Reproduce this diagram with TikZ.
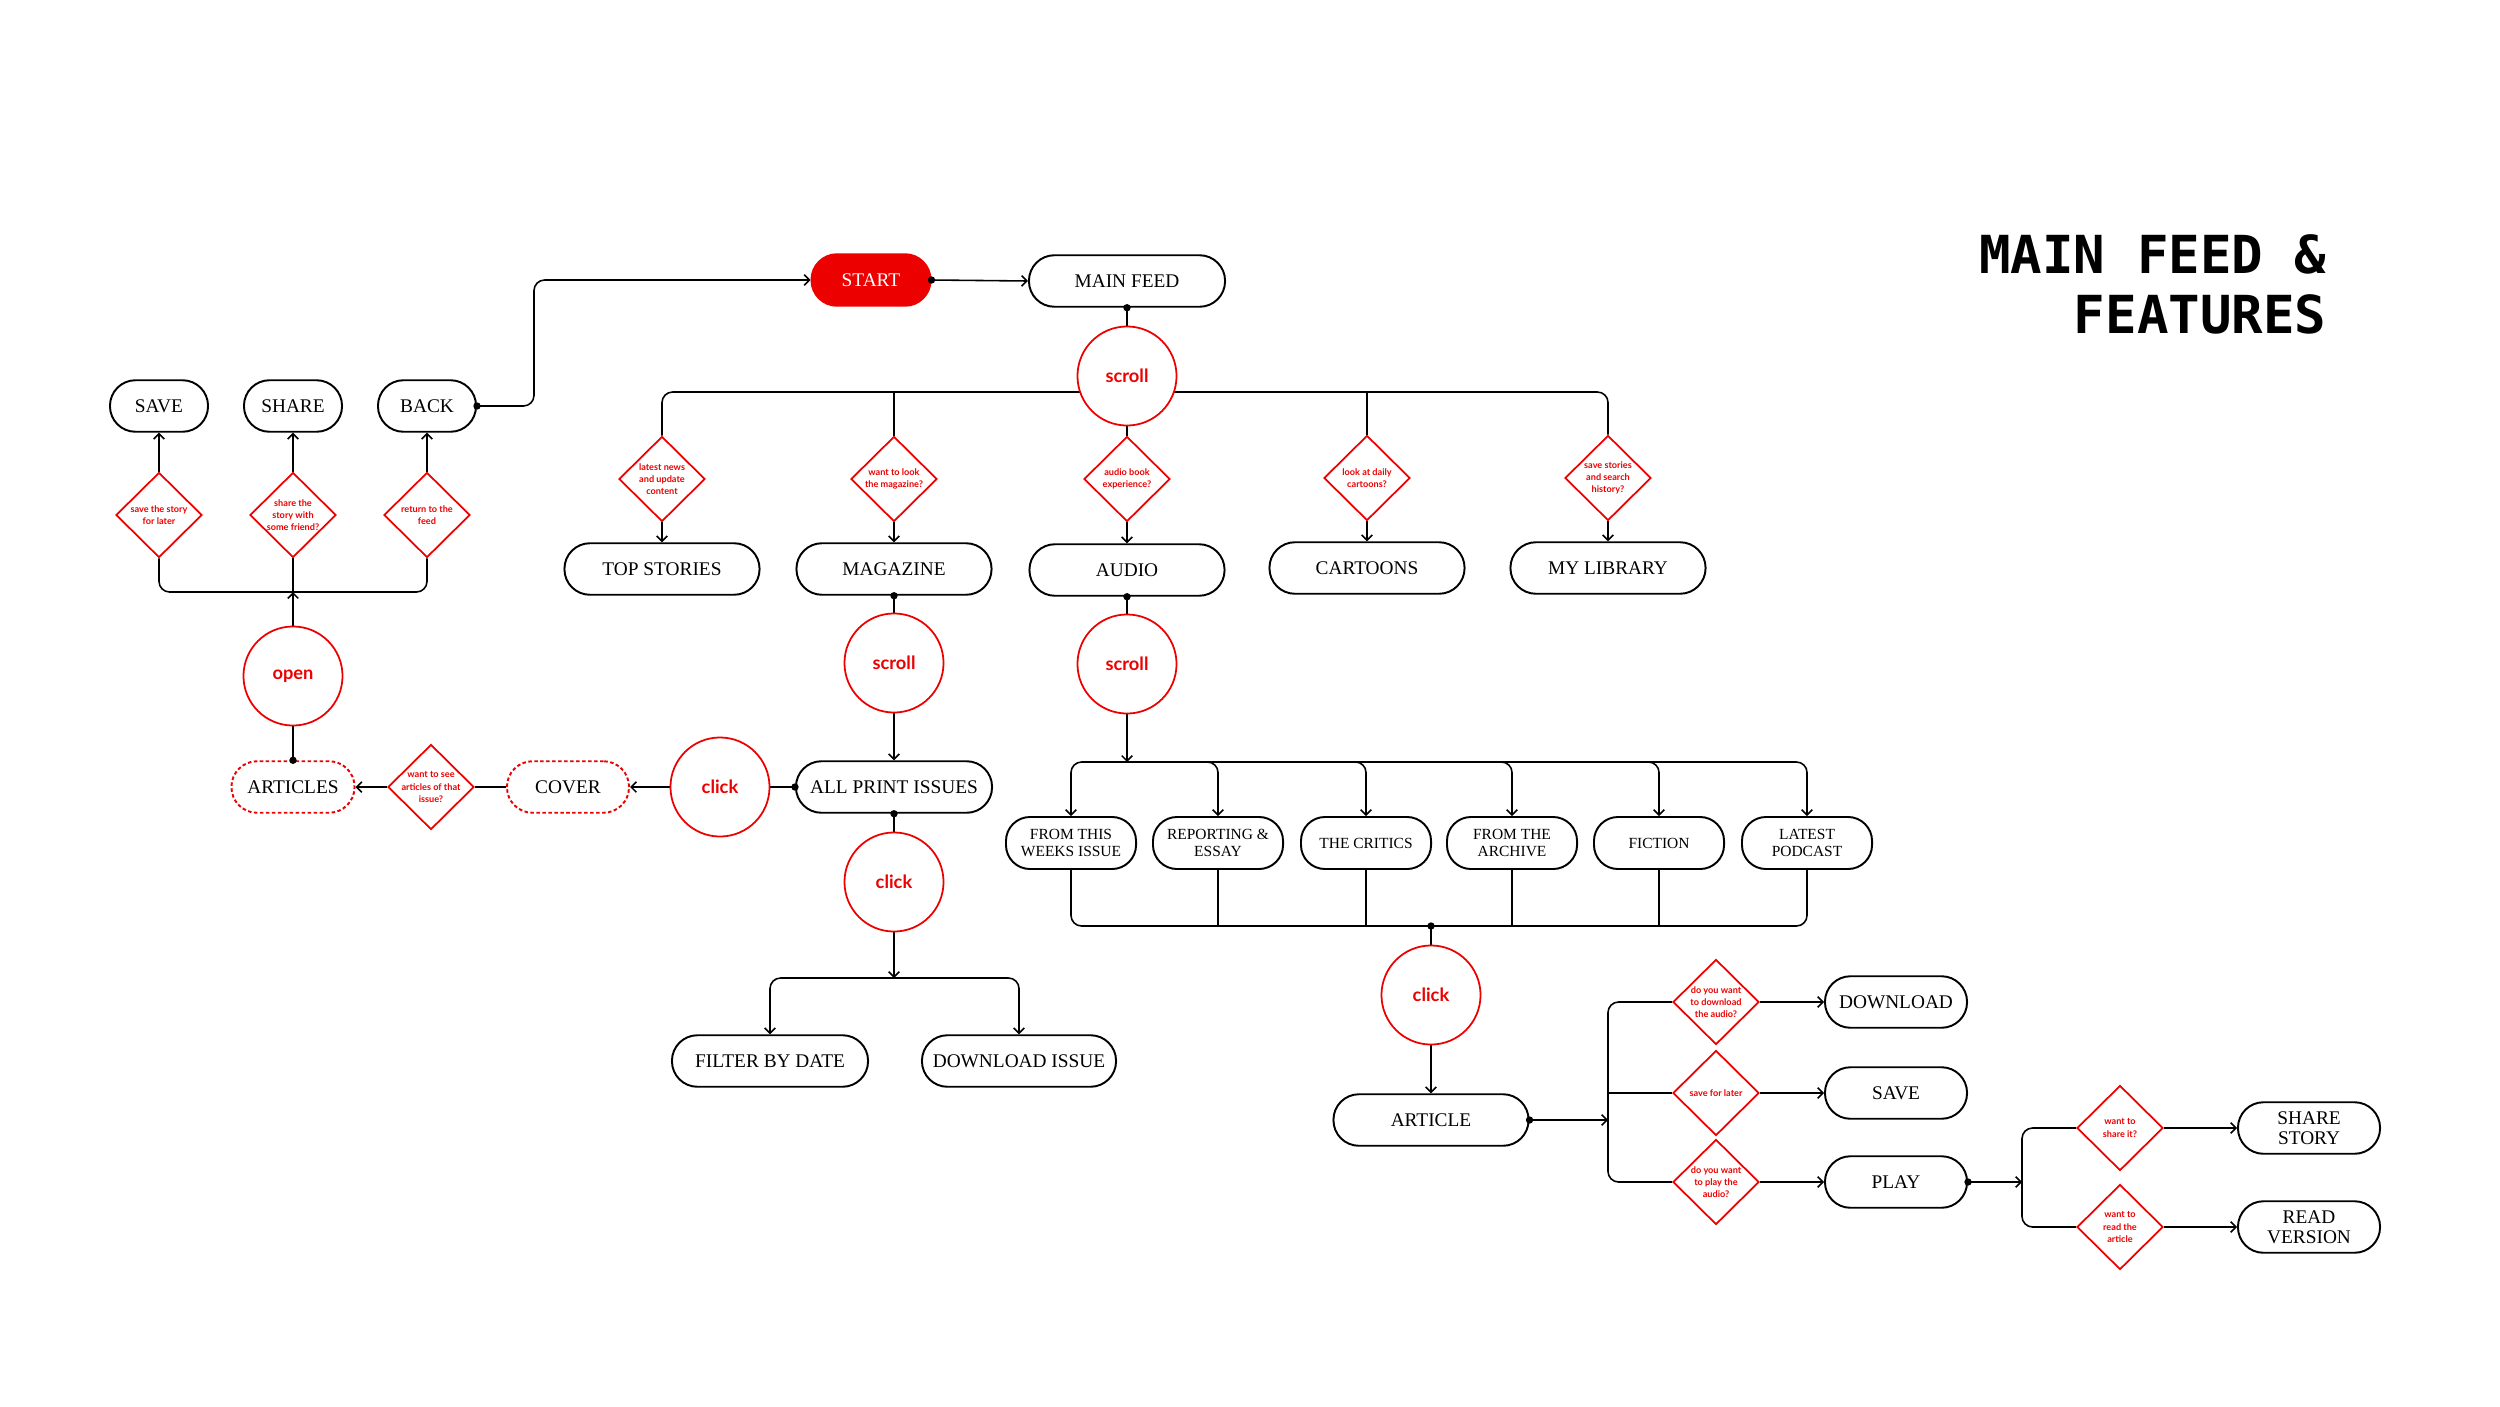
\documentclass[tikz,border=0pt]{standalone}
\usepackage{fontspec}
\setmainfont{Liberation Serif}
\newfontfamily\latof{Lato}
\newfontfamily\monof{DejaVu Sans Mono}
\usetikzlibrary{shapes.geometric,arrows.meta}
\definecolor{fred}{RGB}{236,0,0}
\pgfdeclarelayer{paper}
\pgfdeclarelayer{bg}
\pgfsetlayers{paper,bg,main}
\tikzset{
 pill/.style={draw=black, line width=0.55pt, fill=white, rounded corners=0.255cm, minimum height=0.515cm, inner sep=0pt, align=center, font=\fontsize{5.5}{5.7}\selectfont},
 rowbox/.style={pill, minimum width=1.30cm, minimum height=0.52cm, rounded corners=0.24cm, font=\fontsize{4.4}{5}\selectfont},
 dpill/.style={pill, draw=fred, dash pattern=on 1pt off 0.7pt},
 circ/.style={circle, draw=fred, line width=0.5pt, fill=white, minimum size=0.99cm, inner sep=0pt, text=fred, font=\latof\bfseries\fontsize{5.2}{6}\selectfont},
 dia/.style={diamond, draw=fred, line width=0.5pt, fill=white, minimum width=0.86cm, minimum height=0.85cm, inner sep=0pt},
 dtext/.style={text=fred, align=center, font=\latof\bfseries\fontsize{2.6}{3.5}\selectfont, inner sep=0pt},
 conn/.style={line width=0.45pt, draw=black},
 arr/.style={conn, -{Straight Barb[length=1.5pt,width=3pt]}},
 rc/.style={rounded corners=3pt},
 ttl/.style={anchor=base east, inner sep=0pt, font=\monof\bfseries\fontsize{14.9}{17}\selectfont},
}
\begin{document}
\begin{tikzpicture}[x=0.01cm,y=-0.01cm]
\begin{pgfonlayer}{paper}\fill[white] (0,0) rectangle (2500,1406);\end{pgfonlayer}
\useasboundingbox (0,0) rectangle (2500,1406);

% title
\node[ttl] (title1) at (2327,273) {MAIN FEED \&};
\node[ttl] (title2) at (2327,333) {FEATURES};

% top
\node[pill, fill=fred, draw=fred, text=white, minimum width=1.19cm] (start) at (871,280) {START};
\node[pill, minimum width=1.96cm] (mainfeed) at (1127,281) {MAIN FEED};
\node[circ] (scroll1) at (1127,376) {scroll};

% top diamonds
\node[dia] (dTS) at (662,479) {}; \node[dtext] (tTS) at (dTS) {latest news\\and update\\content};
\node[dia] (dMG) at (894,479) {}; \node[dtext] (tMG) at (dMG) {want to look\\the magazine?};
\node[dia] (dAU) at (1127,479) {}; \node[dtext] (tAU) at (dAU) {audio book\\experience?};
\node[dia] (dCT) at (1367,478) {}; \node[dtext] (tCT) at (dCT) {look at daily\\cartoons?};
\node[dia] (dML) at (1608,478) {}; \node[dtext] (tML) at (dML) {save stories\\and search\\history?};

% first row boxes
\node[pill, minimum width=1.95cm] (topst) at (662,569) {TOP STORIES};
\node[pill, minimum width=1.95cm] (magazine) at (894,569) {MAGAZINE};
\node[pill, minimum width=1.95cm] (audio) at (1127,570) {AUDIO};
\node[pill, minimum width=1.95cm] (cartoons) at (1367,568) {CARTOONS};
\node[pill, minimum width=1.95cm] (mylib) at (1608,568) {MY LIBRARY};

% left cluster
\node[pill, minimum width=0.98cm] (save) at (159,406) {SAVE};
\node[pill, minimum width=0.98cm] (share) at (293,406) {SHARE};
\node[pill, minimum width=0.98cm] (back) at (427,406) {BACK};
\node[dia] (dSave) at (159,515) {}; \node[dtext] (tSave) at (dSave) {save the story\\for later};
\node[dia] (dShare) at (293,515) {}; \node[dtext] (tShare) at (dShare) {share the\\story with\\some friend?};
\node[dia] (dBack) at (427,515) {}; \node[dtext] (tBack) at (dBack) {return to the\\feed};
\node[circ] (open) at (293,676) {open};

% magazine flow
\node[dpill, minimum width=1.23cm] (articles) at (293,787) {ARTICLES};
\node[dia] (dArt) at (431,787) {}; \node[dtext] (tArt) at (dArt) {want to see\\articles of that\\issue?};
\node[dpill, minimum width=1.22cm] (cover) at (568,787) {COVER};
\node[circ] (click1) at (720,787) {click};
\node[pill, minimum width=1.96cm] (allprint) at (894,787) {ALL PRINT ISSUES};
\node[circ] (scroll2) at (894,663) {scroll};
\node[circ] (click2) at (894,882) {click};
\node[pill, minimum width=1.96cm] (filter) at (770,1061) {FILTER BY DATE};
\node[pill, minimum width=1.94cm] (dlissue) at (1019,1061) {DOWNLOAD ISSUE};

% audio flow
\node[circ] (scroll3) at (1127,664) {scroll};
\node[rowbox] (b1) at (1071,843) {FROM THIS\\WEEKS ISSUE};
\node[rowbox] (b2) at (1218,843) {REPORTING \&\\ESSAY};
\node[rowbox] (b3) at (1366,843) {THE CRITICS};
\node[rowbox] (b4) at (1512,843) {FROM THE\\ARCHIVE};
\node[rowbox] (b5) at (1659,843) {FICTION};
\node[rowbox] (b6) at (1807,843) {LATEST\\PODCAST};
\node[circ] (click3) at (1431,995) {click};
\node[pill, minimum width=1.95cm] (article) at (1431,1120) {ARTICLE};

\node[dia] (dDL) at (1716,1002) {}; \node[dtext] (tDL) at (dDL) {do you want\\to download\\the audio?};
\node[dia] (dSV) at (1716,1093) {}; \node[dtext] (tSV) at (dSV) {save for later};
\node[dia] (dPL) at (1716,1182) {}; \node[dtext] (tPL) at (dPL) {do you want\\to play the\\audio?};
\node[pill, minimum width=1.42cm] (download) at (1896,1002) {DOWNLOAD};
\node[pill, minimum width=1.42cm] (save2) at (1896,1093) {SAVE};
\node[pill, minimum width=1.42cm] (play) at (1896,1182) {PLAY};

\node[dia] (dSH) at (2120,1128) {}; \node[dtext] (tSH) at (dSH) {want to\\share it?};
\node[dia] (dRD) at (2120,1227) {}; \node[dtext] (tRD) at (dRD) {want to\\read the\\article};
\node[pill, minimum width=1.42cm] (sharest) at (2309,1128) {SHARE\\STORY};
\node[pill, minimum width=1.42cm] (readv) at (2309,1227) {READ\\VERSION};

% junction coordinates
\coordinate (tbus) at (1127,392);
\coordinate (lbus) at (293,592);
\coordinate (mbus) at (894,978);
\coordinate (abus) at (1127,762);
\coordinate (cbus) at (1431,926);
\coordinate (vb1) at (1608,1120);
\coordinate (vb2) at (2022,1182);

\begin{pgfonlayer}{bg}
\draw[arr,rc] (back.east) -- ++(57,0) |- (start.west);
\draw[arr] (start.east) -- (mainfeed.west);
\draw[conn] (mainfeed.south) -- (scroll1.north);
\draw[conn,rc] (dTS.north) |- (tbus) -| (dML.north);
\draw[conn] (dMG.north) -- (dMG.north |- tbus);
\draw[conn] (dCT.north) -- (dCT.north |- tbus);
\draw[conn] (scroll1.south) -- (dAU.north);
\draw[arr] (dTS.south) -- (topst.north);
\draw[arr] (dMG.south) -- (magazine.north);
\draw[arr] (dAU.south) -- (audio.north);
\draw[arr] (dCT.south) -- (cartoons.north);
\draw[arr] (dML.south) -- (mylib.north);
% left
\draw[arr] (dSave.north) -- (save.south);
\draw[arr] (dShare.north) -- (share.south);
\draw[arr] (dBack.north) -- (back.south);
\draw[conn,rc] (dSave.south) |- (lbus) -| (dBack.south);
\draw[conn] (dShare.south) -- (lbus);
\draw[arr] (open.north) -- (lbus);
\draw[conn] (articles.north) -- (open.south);
\draw[arr] (dArt.west) -- (articles.east);
\draw[conn] (cover.west) -- (dArt.east);
\draw[arr] (click1.west) -- (cover.east);
\draw[conn] (allprint.west) -- (click1.east);
\draw[conn] (magazine.south) -- (scroll2.north);
\draw[arr] (scroll2.south) -- (allprint.north);
\draw[conn] (allprint.south) -- (click2.north);
\draw[arr] (click2.south) -- (mbus);
\draw[arr,rc] (mbus) -| (filter.north);
\draw[arr,rc] (mbus) -| (dlissue.north);
% audio
\draw[conn] (audio.south) -- (scroll3.north);
\draw[arr] (scroll3.south) -- (abus);
\foreach \b in {b1,b2,b3,b4,b5,b6} \draw[arr,rc] (abus) -| (\b.north);
\draw[conn,rc] (b1.south) |- (cbus) -| (b6.south);
\foreach \b in {b2,b3,b4,b5} \draw[conn] (\b.south) -- (\b.south |- cbus);
\draw[conn] (cbus) -- (click3.north);
\draw[arr] (click3.south) -- (article.north);
\draw[arr] (article.east) -- (vb1);
\draw[conn,rc] (dDL.west) -| (vb1) |- (dPL.west);
\draw[conn] (dSV.west) -- (dSV.west -| vb1);
\draw[arr] (dDL.east) -- (download.west);
\draw[arr] (dSV.east) -- (save2.west);
\draw[arr] (dPL.east) -- (play.west);
\draw[arr] (play.east) -- (vb2);
\draw[conn,rc] (dSH.west) -| (vb2) |- (dRD.west);
\draw[arr] (dSH.east) -- (sharest.west);
\draw[arr] (dRD.east) -- (readv.west);
\end{pgfonlayer}

% junction dots
\foreach \p in {start.east, mainfeed.south, back.east, magazine.south, allprint.west, allprint.south, articles.north, audio.south, cbus, article.east, play.east}
  \fill (\p) circle (1.05pt);
\end{tikzpicture}
\end{document}
